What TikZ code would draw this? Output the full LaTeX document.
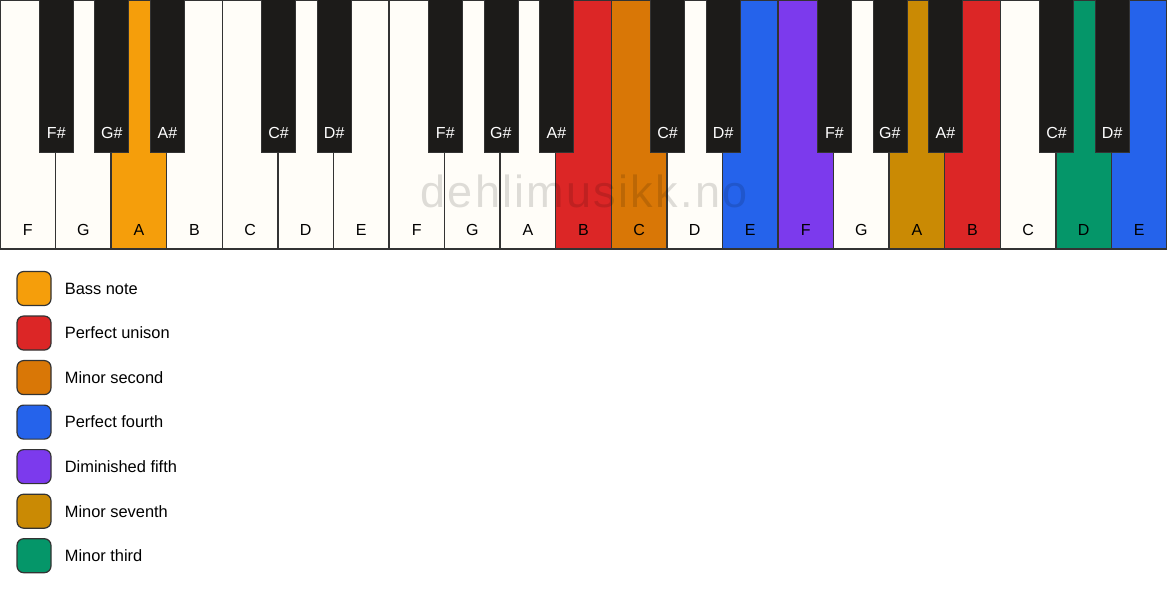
\documentclass[tikz,border=0pt]{standalone}
\usepackage{fontspec}
\setmainfont{Liberation Sans}
\newfontfamily\markfont[LetterSpace=5]{Liberation Sans}
\usetikzlibrary{positioning}
\definecolor{keywhite}{HTML}{FFFDF8}
\definecolor{keyblack}{HTML}{1C1B19}
\definecolor{keyline}{HTML}{333333}
\definecolor{bass}{HTML}{F59E0B}
\definecolor{unison}{HTML}{DC2626}
\definecolor{second}{HTML}{D97706}
\definecolor{fourth}{HTML}{2563EB}
\definecolor{fifth}{HTML}{7C3AED}
\definecolor{seventh}{HTML}{CA8A04}
\definecolor{third}{HTML}{059669}
\tikzstyle{whitekey} = [rectangle, draw=keyline, line width=1.1pt, fill=keywhite,
    minimum width=41.68pt, minimum height=186.75pt, inner sep=0pt,
    text height=166.8pt, text depth=0pt, font=\fontsize{12}{14}\selectfont]
\tikzstyle{blackkey} = [rectangle, draw=keyline, line width=0.6pt, fill=keyblack,
    text=white, anchor=north, minimum width=25.5pt, minimum height=114.75pt,
    inner sep=0pt, text height=93.3pt, text depth=0pt, font=\fontsize{12}{14}\selectfont]
\tikzstyle{legendbox} = [rectangle, draw=keyline, line width=0.9pt, rounded corners=5pt,
    minimum size=25.5pt, inner sep=0pt]
\tikzstyle{legendtext} = [inner sep=0pt, font=\fontsize{12.3}{14}\selectfont]
\tikzstyle{watermark} = [inner sep=0pt, text=black, text opacity=0.13,
    font=\markfont\fontsize{33.75}{36}\selectfont]

\begin{document}
\begin{tikzpicture}[x=0.75pt, y=-0.75pt, node distance=41.68pt]

    \path[use as bounding box, fill=white] (0,0) rectangle (1167,594);

    \node [whitekey] (f1) at (27.79,124.5) {F};
    \node [whitekey, right of=f1] (g1) {G};
    \node [whitekey, right of=g1, fill=bass] (a1) {A};
    \node [whitekey, right of=a1] (b1) {B};
    \node [whitekey, right of=b1] (c1) {C};
    \node [whitekey, right of=c1] (d1) {D};
    \node [whitekey, right of=d1] (e1) {E};

    \node [whitekey, right of=e1] (f2) {F};
    \node [whitekey, right of=f2] (g2) {G};
    \node [whitekey, right of=g2] (a2) {A};
    \node [whitekey, right of=a2, fill=unison] (b2) {B};
    \node [whitekey, right of=b2, fill=second] (c2) {C};
    \node [whitekey, right of=c2] (d2) {D};
    \node [whitekey, right of=d2, fill=fourth] (e2) {E};

    \node [whitekey, right of=e2, fill=fifth] (f3) {F};
    \node [whitekey, right of=f3] (g3) {G};
    \node [whitekey, right of=g3, fill=seventh] (a3) {A};
    \node [whitekey, right of=a3, fill=unison] (b3) {B};
    \node [whitekey, right of=b3] (c3) {C};
    \node [whitekey, right of=c3, fill=third] (d3) {D};
    \node [whitekey, right of=d3, fill=fourth] (e3) {E};

    \node [blackkey] (fs1) at (f1.north east) {F\#};
    \node [blackkey] (gs1) at (g1.north east) {G\#};
    \node [blackkey] (as1) at (a1.north east) {A\#};
    \node [blackkey] (cs1) at (c1.north east) {C\#};
    \node [blackkey] (ds1) at (d1.north east) {D\#};

    \node [blackkey] (fs2) at (f2.north east) {F\#};
    \node [blackkey] (gs2) at (g2.north east) {G\#};
    \node [blackkey] (as2) at (a2.north east) {A\#};
    \node [blackkey] (cs2) at (c2.north east) {C\#};
    \node [blackkey] (ds2) at (d2.north east) {D\#};

    \node [blackkey] (fs3) at (f3.north east) {F\#};
    \node [blackkey] (gs3) at (g3.north east) {G\#};
    \node [blackkey] (as3) at (a3.north east) {A\#};
    \node [blackkey] (cs3) at (c3.north east) {C\#};
    \node [blackkey] (ds3) at (d3.north east) {D\#};

    \node [watermark] (mark) at (584,191.5) {dehlimusikk.no};

    \node [legendbox, fill=bass] (lbass) at (34,288.5) {};
    \node [legendbox, fill=unison, below of=lbass, node distance=33.4pt] (lunison) {};
    \node [legendbox, fill=second, below of=lunison, node distance=33.4pt] (lsecond) {};
    \node [legendbox, fill=fourth, below of=lsecond, node distance=33.4pt] (lfourth) {};
    \node [legendbox, fill=fifth, below of=lfourth, node distance=33.4pt] (lfifth) {};
    \node [legendbox, fill=seventh, below of=lfifth, node distance=33.4pt] (lseventh) {};
    \node [legendbox, fill=third, below of=lseventh, node distance=33.4pt] (lthird) {};

    \node [legendtext, right=9.75pt of lbass] (tbass) {Bass note};
    \node [legendtext, right=9.75pt of lunison] (tunison) {Perfect unison};
    \node [legendtext, right=9.75pt of lsecond] (tsecond) {Minor second};
    \node [legendtext, right=9.75pt of lfourth] (tfourth) {Perfect fourth};
    \node [legendtext, right=9.75pt of lfifth] (tfifth) {Diminished fifth};
    \node [legendtext, right=9.75pt of lseventh] (tseventh) {Minor seventh};
    \node [legendtext, right=9.75pt of lthird] (tthird) {Minor third};

\end{tikzpicture}
\end{document}
